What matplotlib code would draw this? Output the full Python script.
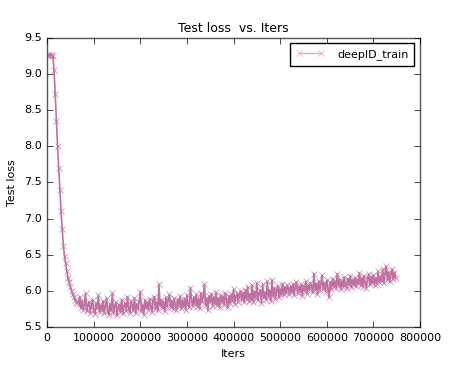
import numpy as np
import matplotlib
matplotlib.use('Agg')
import matplotlib.pyplot as plt
from matplotlib.lines import Line2D

plt.style.use('classic')
plt.rcParams.update({
    "font.family": "DejaVu Sans",
    "font.size": 8,
    "axes.titlesize": 9,
    "axes.labelsize": 8,
    "xtick.labelsize": 8,
    "ytick.labelsize": 8,
    "legend.fontsize": 8,
})

# test loss recorded every 2500 iterations
iter_step = 2500

loss_start = [9.27, 9.26, 9.27, 9.26, 9.27, 9.25, 9.05, 8.72, 8.35, 8.00,
              7.70, 7.40, 7.10, 6.85, 6.62, 6.48, 6.38, 6.27, 6.18, 6.12,
              6.05, 6.00, 5.95, 5.92, 5.88, 5.85, 5.83]

loss_rest = [
    5.82, 5.92, 5.76, 5.86, 5.74, 5.81, 5.97, 5.72, 5.80, 5.85, 5.70, 5.79, 5.88, 5.73, 5.68, 5.83, 5.76, 5.94, 5.71, 5.80,
    5.74, 5.86, 5.69, 5.79, 5.90, 5.72, 5.67, 5.82, 5.73, 5.97, 5.70, 5.78, 5.84, 5.66, 5.76, 5.81, 5.71, 5.88, 5.69, 5.79,
    5.83, 5.72, 5.92, 5.76, 5.70, 5.86, 5.80, 5.73, 5.90, 5.69, 5.82, 5.75, 5.85, 5.99, 5.72, 5.81, 5.67, 5.87, 5.76, 5.84,
    5.74, 5.89, 5.79, 5.71, 5.86, 5.92, 5.75, 5.84, 5.73, 6.09, 5.80, 5.88, 5.76, 5.85, 5.72, 5.91, 5.78, 5.87, 5.95, 5.77,
    5.86, 5.75, 5.90, 5.81, 5.73, 5.88, 5.79, 5.93, 5.76, 5.87, 5.78, 5.89, 5.74, 5.94, 5.82, 5.77, 6.04, 5.88, 5.79, 5.91,
    5.82, 5.95, 5.78, 5.89, 5.76, 5.97, 5.84, 5.92, 6.09, 5.80, 5.90, 5.73, 5.93, 5.85, 5.96, 5.79, 5.91, 5.82, 5.98, 5.81,
    5.90, 5.78, 5.94, 5.85, 5.92, 5.81, 5.97, 5.87, 5.77, 5.93, 5.83, 5.95, 5.86, 6.02, 5.82, 5.92, 5.97, 5.84, 5.94, 6.00,
    5.87, 5.97, 5.85, 6.01, 5.89, 6.06, 5.86, 5.96, 5.88, 6.08, 5.84, 5.99, 5.90, 6.11, 5.87, 5.97, 6.01, 5.83, 6.09, 5.91,
    5.98, 5.88, 6.13, 5.92, 6.01, 5.86, 6.15, 5.93, 6.04, 5.89, 6.00, 6.07, 5.91, 6.02, 5.94, 6.10, 5.95, 6.05, 5.97, 6.08,
    6.03, 5.95, 6.07, 5.98, 6.10, 5.94, 6.05, 6.12, 5.97, 6.06, 5.99, 6.09, 5.93, 6.07, 6.00, 6.13, 5.96, 6.08, 6.01, 6.11,
    6.06, 5.98, 6.24, 6.03, 6.10, 5.95, 6.14, 6.01, 6.09, 6.22, 6.02, 6.11, 5.99, 6.15, 6.04, 5.91, 6.12, 6.03, 6.17, 6.06,
    6.13, 6.04, 6.24, 6.07, 6.16, 6.02, 6.14, 6.06, 6.19, 6.08, 6.04, 6.17, 6.09, 6.21, 6.05, 6.15, 6.08, 6.18, 6.07, 6.16,
    6.10, 6.25, 6.08, 6.18, 6.06, 6.21, 6.11, 6.04, 6.17, 6.23, 6.09, 6.19, 6.11, 6.22, 6.08, 6.18, 6.10, 6.27, 6.12, 6.20,
    6.13, 6.30, 6.11, 6.24, 6.34, 6.15, 6.26, 6.13, 6.23, 6.30, 6.16, 6.25, 6.18,
]

test_loss = np.array(loss_start + loss_rest)
iters = np.arange(len(test_loss)) * iter_step

fig = plt.figure(figsize=(4.57, 3.72), dpi=100)
fig.patch.set_facecolor('white')
ax = fig.add_subplot(111)
fig.subplots_adjust(left=0.103, right=0.919, top=0.898, bottom=0.121)

ax.plot(iters, test_loss, color='#b3578f', alpha=0.85, marker='x', markersize=4.5,
        markeredgecolor='#c070a2', linewidth=1.2)

ax.set_xlim(0, 800000)
ax.set_ylim(5.5, 9.5)
ax.set_xticks(np.arange(0, 800001, 100000))
ax.set_yticks(np.arange(5.5, 9.51, 0.5))
ax.set_title('Test loss  vs. Iters', y=0.995)
ax.set_xlabel('Iters')
ax.set_ylabel('Test loss')
for s in ax.spines.values():
    s.set_color('#555555')

# legend swatch is drawn lighter, like the single line looks in the original
proxy = Line2D([], [], color='#e3a6c9', marker='x', markersize=4,
               markeredgecolor='#e3a6c9', linewidth=1)
ax.legend([proxy], ['deepID_train'], loc='upper right', numpoints=2,
          fancybox=False, handlelength=2.6, handletextpad=1.2, borderpad=0.5)

plt.savefig('out.png', dpi=100, facecolor='white')
